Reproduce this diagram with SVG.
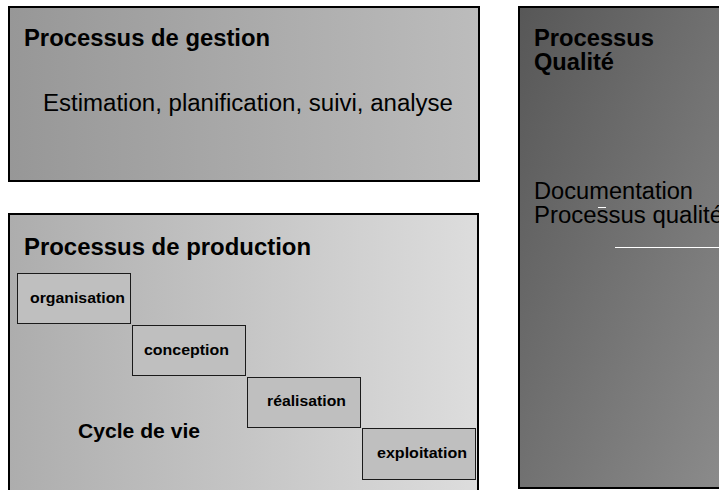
<svg xmlns="http://www.w3.org/2000/svg" width="719" height="490" viewBox="0 0 719 490">
<style>
.t{font-family:"Liberation Sans",Arial,sans-serif;fill:#000}
.b{font-weight:bold}
.frame{stroke:#000;stroke-width:2}
.step{fill:#bfbfbf;stroke:#1a1a1a;stroke-width:1}
.sl{font-size:15.5px}
</style>
<defs>
<linearGradient id="gTop" x1="0" y1="0" x2="1" y2="0">
<stop offset="0" stop-color="#979797"/>
<stop offset="1" stop-color="#bcbcbc"/>
</linearGradient>
<linearGradient id="gProd" x1="0" y1="0" x2="1" y2="0">
<stop offset="0" stop-color="#adadad"/>
<stop offset="1" stop-color="#dddddd"/>
</linearGradient>
<linearGradient id="gQual" x1="0" y1="0" x2="1" y2="1">
<stop offset="0" stop-color="#575757"/>
<stop offset="1" stop-color="#8c8c8c"/>
</linearGradient>
</defs>
<rect width="719" height="490" fill="#fff"/>
<g id="gestion">
<rect class="frame" x="9" y="7" width="470" height="174" fill="url(#gTop)"/>
<text class="t b" x="24" y="46" font-size="23" textLength="246" lengthAdjust="spacingAndGlyphs">Processus de gestion</text>
<text class="t" x="43" y="110.5" font-size="23" textLength="410" lengthAdjust="spacingAndGlyphs">Estimation, planification, suivi, analyse</text>
</g>
<g id="production">
<rect class="frame" x="9" y="214" width="469" height="280" fill="url(#gProd)"/>
<text class="t b" x="24" y="255" font-size="23" textLength="287" lengthAdjust="spacingAndGlyphs">Processus de production</text>
<text class="t b" x="78" y="438" font-size="20.5" textLength="122" lengthAdjust="spacingAndGlyphs">Cycle de vie</text>
</g>
<g id="organisation">
<rect class="step" x="17.5" y="273.5" width="113" height="50"/>
<text class="t b sl" x="30" y="303" textLength="95" lengthAdjust="spacingAndGlyphs">organisation</text>
</g>
<g id="conception">
<rect class="step" x="132.5" y="325.5" width="113" height="50"/>
<text class="t b sl" x="144" y="355" textLength="85" lengthAdjust="spacingAndGlyphs">conception</text>
</g>
<g id="realisation">
<rect class="step" x="247.5" y="377.5" width="113" height="50"/>
<text class="t b sl" x="267" y="406" textLength="79" lengthAdjust="spacingAndGlyphs">réalisation</text>
</g>
<g id="exploitation">
<rect class="step" x="362.5" y="428.5" width="113" height="51"/>
<text class="t b sl" x="377" y="458" textLength="90" lengthAdjust="spacingAndGlyphs">exploitation</text>
</g>
<g id="qualite">
<rect class="frame" x="519" y="7" width="210" height="481" fill="url(#gQual)"/>
<text class="t b" x="534" y="46" font-size="23" textLength="120" lengthAdjust="spacingAndGlyphs">Processus</text>
<text class="t b" x="534" y="70" font-size="23" textLength="80" lengthAdjust="spacingAndGlyphs">Qualité</text>
<text class="t" x="534" y="199" font-size="23" textLength="159" lengthAdjust="spacingAndGlyphs">Documentation</text>
<text class="t" x="534" y="223" font-size="23" textLength="189" lengthAdjust="spacingAndGlyphs">Processus qualité</text>
<line x1="598" y1="207.5" x2="606" y2="207.5" stroke="#fff" stroke-width="1"/>
<line x1="615" y1="247.5" x2="719" y2="247.5" stroke="#fff" stroke-width="1"/>
</g>
<g id="connectors"/>
</svg>
